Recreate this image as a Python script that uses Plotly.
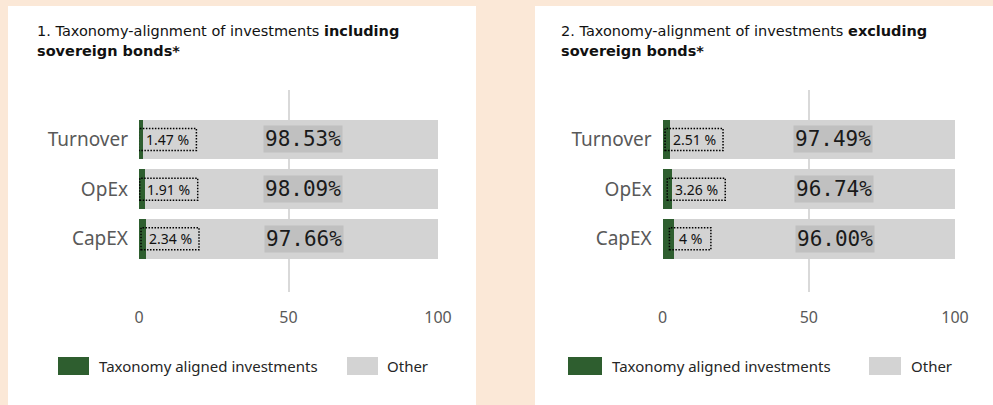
import plotly.graph_objects as go

categories = ["Turnover", "OpEx", "CapEX"]
aligned_incl = [1.47, 1.91, 2.34]
other_incl = [98.53, 98.09, 97.66]
aligned_excl = [2.51, 3.26, 4.0]
other_excl = [97.49, 96.74, 96.00]
aligned_labels_incl = ["1.47 %", "1.91 %", "2.34 %"]
aligned_labels_excl = ["2.51 %", "3.26 %", "4 %"]
other_labels_incl = ["98.53%", "98.09%", "97.66%"]
other_labels_excl = ["97.49%", "96.74%", "96.00%"]
x_ticks = [0, 50, 100]

W, H = 993, 405
GREEN = "#2e5e2f"
GREY = "#d3d3d3"
PEACH = "#fbe8d7"


def px(x):
    return x / W


def py(y):
    return 1 - y / H


fig = go.Figure()

panels = [
    ("x", "y", aligned_incl, other_incl, aligned_labels_incl, other_labels_incl, 12),
    ("x2", "y2", aligned_excl, other_excl, aligned_labels_excl, other_labels_excl, 20),
]

shapes = [
    dict(type="rect", xref="paper", yref="paper", x0=px(8), x1=px(476), y0=0, y1=py(6),
         fillcolor="white", line=dict(width=0), layer="below"),
    dict(type="rect", xref="paper", yref="paper", x0=px(535), x1=1.0, y0=0, y1=py(6),
         fillcolor="white", line=dict(width=0), layer="below"),
]
annotations = []

for xa, ya, aligned, other, alabels, olabels, oshift in panels:
    fig.add_trace(go.Bar(y=categories, x=aligned, orientation="h", marker=dict(color=GREEN, line=dict(width=0)),
                         width=0.8, xaxis=xa, yaxis=ya, showlegend=False, hoverinfo="skip"))
    fig.add_trace(go.Bar(y=categories, x=other, orientation="h", marker=dict(color=GREY, line=dict(width=0)),
                         width=0.8, xaxis=xa, yaxis=ya, showlegend=False, hoverinfo="skip"))
    for i, cat in enumerate(categories):
        w = 25 + 5.5 * len(alabels[i])
        shapes.append(dict(type="rect", xref=xa, yref=ya, xsizemode="pixel", ysizemode="pixel",
                           xanchor=aligned[i], yanchor=i, x0=-5, x1=-5 + w, y0=-11, y1=11,
                           line=dict(color="#000000", width=1.5, dash="1.5px,1.5px"), layer="above"))
        annotations.append(dict(x=aligned[i], y=cat, xref=xa, yref=ya, text=alabels[i], showarrow=False,
                                xanchor="center", yanchor="middle", xshift=-5 + w / 2,
                                font=dict(family="Noto Sans", size=14, color="#111111")))
        annotations.append(dict(x=aligned[i] + other[i] / 2, y=cat, xref=xa, yref=ya, text=olabels[i],
                                showarrow=False, xanchor="center", yanchor="middle", xshift=oshift,
                                bgcolor="#c0c0c0", borderpad=1,
                                font=dict(family="DejaVu Sans Mono", size=21, color="#1a1a1a")))

# titles
for x0, num, word in [(35, "1.", "including"), (559, "2.", "excluding")]:
    annotations.append(dict(xref="paper", yref="paper", x=px(x0), y=py(31), xanchor="left", yanchor="middle",
                            text=f"{num} Taxonomy-alignment of investments <b>{word}</b>", showarrow=False,
                            font=dict(family="DejaVu Sans", size=14.5, color="#111111")))
    annotations.append(dict(xref="paper", yref="paper", x=px(x0), y=py(51), xanchor="left", yanchor="middle",
                            text="<b>sovereign bonds*</b>", showarrow=False,
                            font=dict(family="DejaVu Sans", size=14.5, color="#111111")))

# manual legends
for gx0, gx1, tx, ox0, ox1, otx in [(58, 89, 97, 347, 378, 385), (568, 602, 610, 869, 901, 909)]:
    shapes.append(dict(type="rect", xref="paper", yref="paper", x0=px(gx0), x1=px(gx1), y0=py(375), y1=py(357),
                       fillcolor=GREEN, line=dict(width=0)))
    shapes.append(dict(type="rect", xref="paper", yref="paper", x0=px(ox0), x1=px(ox1), y0=py(375), y1=py(357),
                       fillcolor=GREY, line=dict(width=0)))
    annotations.append(dict(xref="paper", yref="paper", x=px(tx), y=py(366), xanchor="left", yanchor="middle",
                            text="Taxonomy aligned investments", showarrow=False,
                            font=dict(family="Noto Sans", size=15, color="#262626")))
    annotations.append(dict(xref="paper", yref="paper", x=px(otx), y=py(366), xanchor="left", yanchor="middle",
                            text="Other", showarrow=False,
                            font=dict(family="Noto Sans", size=15, color="#262626")))

xaxis_common = dict(range=[0, 100], tickvals=x_ticks, showgrid=True, gridcolor="#d9d9d9", gridwidth=2,
                    zeroline=False, showline=False, ticks="", ticklabelstandoff=14, automargin=False,
                    tickfont=dict(family="Noto Sans", size=16, color="#595959"), fixedrange=True)
yaxis_common = dict(categoryorder="array", categoryarray=categories, range=[3.07, -0.995],
                    showgrid=False, zeroline=False, showline=False, ticks="", ticklabelstandoff=10,
                    automargin=False,
                    tickfont=dict(family="Noto Sans", size=19, color="#595959"), fixedrange=True)

y_dom = [py(292), py(90)]
fig.update_layout(
    width=W, height=H, margin=dict(l=0, r=0, t=0, b=0, pad=0, autoexpand=False),
    paper_bgcolor=PEACH, plot_bgcolor="rgba(0,0,0,0)",
    barmode="stack", bargap=0.2,
    xaxis=dict(domain=[px(139), px(438)], anchor="y", **xaxis_common),
    yaxis=dict(domain=y_dom, anchor="x", **yaxis_common),
    xaxis2=dict(domain=[px(662.7), px(955)], anchor="y2", **xaxis_common),
    yaxis2=dict(domain=y_dom, anchor="x2", **yaxis_common),
    shapes=shapes, annotations=annotations, showlegend=False,
)

fig.write_html("out.html", config={"displayModeBar": False},
               post_script="document.body.style.margin='0';document.body.style.padding='0';"
                           "document.body.style.overflow='hidden';")
